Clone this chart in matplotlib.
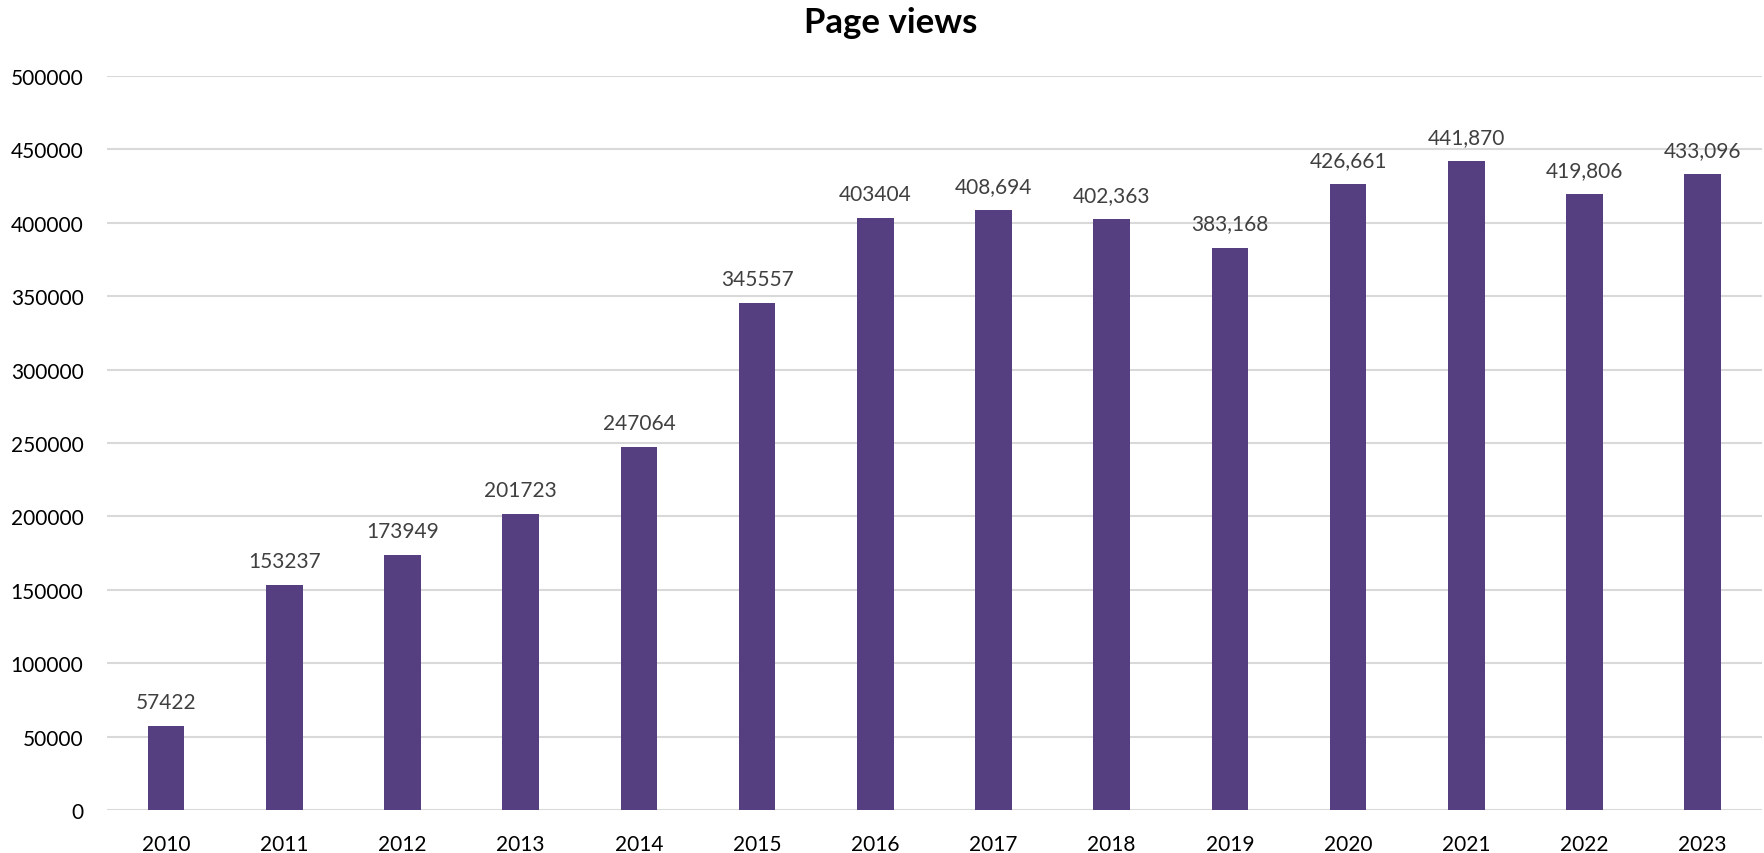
import matplotlib
matplotlib.use("Agg")
import matplotlib.pyplot as plt

# Visites anuals de la pàgina
years = ["2010", "2011", "2012", "2013", "2014", "2015", "2016",
         "2017", "2018", "2019", "2020", "2021", "2022", "2023"]
views = [57422, 153237, 173949, 201723, 247064, 345557, 403404,
         408694, 402363, 383168, 426661, 441870, 419806, 433096]
# a partir d'aquest any les etiquetes porten separador de milers
comma_from = 2017
y_ticks = list(range(0, 500001, 50000))

plt.rcParams['font.family'] = ['Lato', 'DejaVu Sans']

fig = plt.figure(figsize=(17.64, 8.54), dpi=100)
ax = fig.add_axes([0.0607, 0.0504, 0.938, 0.8594])

x = range(len(years))
ax.bar(x, views, width=0.31, color='#553F80', zorder=3)

for i, (yr, v) in enumerate(zip(years, views)):
    txt = f"{v:,}" if int(yr) >= comma_from else str(v)
    ax.annotate(txt, (i, v), xytext=(0, 13), textcoords='offset points',
                ha='center', va='baseline', fontsize=15, color='#404040')

ax.set_xlim(-0.5, len(years) - 0.5)
ax.set_ylim(0, 500000)
ax.set_yticks(y_ticks)
ax.set_yticklabels([str(t) for t in y_ticks])
ax.set_xticks(list(x))
ax.set_xticklabels(years)
ax.tick_params(axis='y', length=0, pad=17, labelsize=15, labelcolor='#000000')
ax.tick_params(axis='x', length=0, pad=17, labelsize=15, labelcolor='#000000')

ax.grid(axis='y', color='#d9d9d9', linewidth=1.5, zorder=0)
for s in ax.spines.values():
    s.set_visible(False)

fig.text(0.505, 0.961, "Page views", ha='center', va='baseline',
         fontsize=25, fontweight='bold')

fig.savefig("out.png", dpi=100)
